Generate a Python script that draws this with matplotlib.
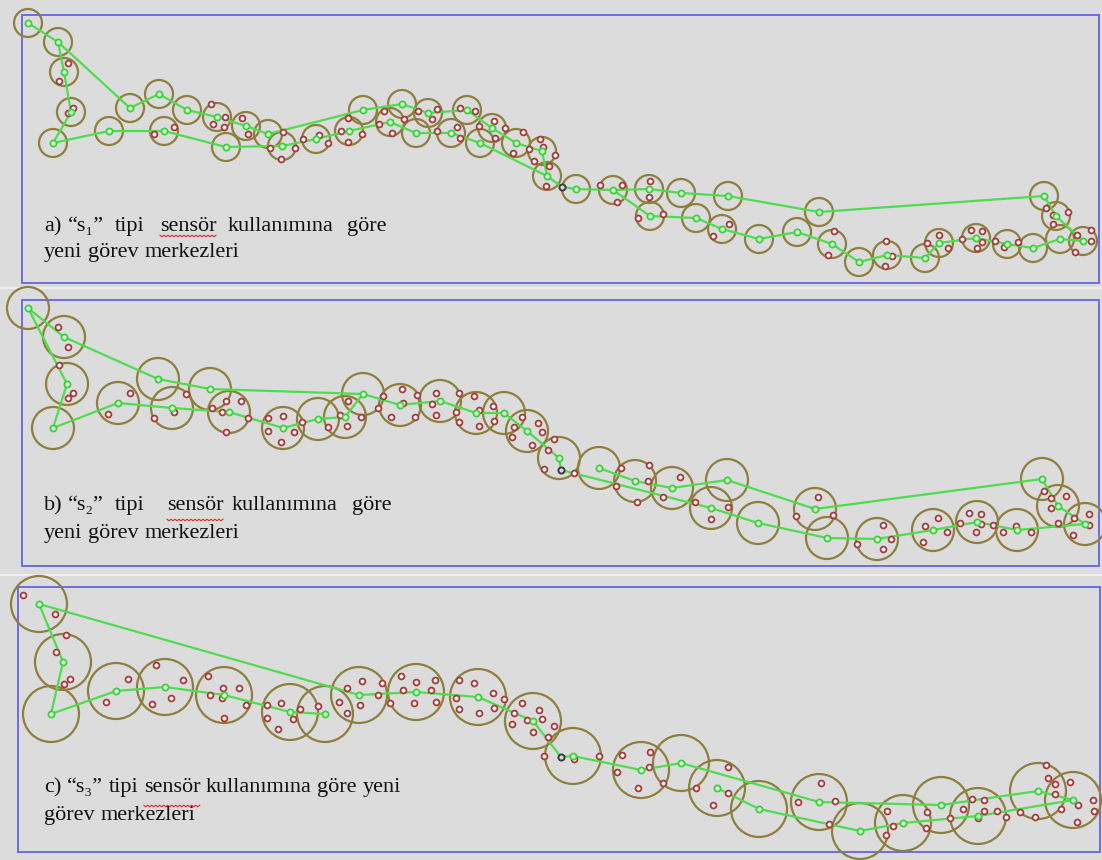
import numpy as np
import matplotlib
matplotlib.use("Agg")
import matplotlib.pyplot as plt
from matplotlib.patches import Circle, Rectangle

# ---------------- data (image pixel coordinates) ----------------
# Panel a
a_depot = (562, 187)
a_route_upper = [(28, 23), (58, 42), (130, 108), (159, 94), (187, 110), (217, 117), (246, 126),
                 (268, 134), (363, 110), (402, 104), (428, 113), (467, 110), (492, 128), (516, 143),
                 (542, 151), (547, 176)]
a_route_lower = [(58, 42), (64, 72), (71, 112), (53, 143), (109, 131), (164, 131), (226, 147),
                 (282, 146), (316, 139), (349, 131), (390, 122), (416, 133), (451, 133), (480, 143),
                 (547, 176), (562, 187), (576, 189), (613, 190), (649, 189), (681, 193), (728, 196),
                 (819, 212), (1044, 196), (1056, 216), (1083, 241)]
a_route_right = [(613, 190), (650, 216), (696, 218), (722, 229), (759, 239), (797, 232), (832, 244),
                 (859, 262), (887, 255), (925, 258), (939, 243), (976, 238), (1007, 244), (1033, 248),
                 (1060, 239), (1083, 241)]
a_tasks = [(68, 63), (59, 81), (73, 108), (68, 113), (154, 134), (174, 127), (211, 104), (213, 124),
           (225, 117), (224, 127), (242, 118), (248, 134), (283, 132), (270, 148), (281, 159), (295, 148),
           (303, 139), (319, 135), (328, 143), (341, 131), (348, 118), (348, 142), (362, 134),
           (384, 111), (379, 124), (392, 133), (404, 119), (418, 111), (437, 109), (432, 119), (437, 131),
           (457, 127), (460, 138), (460, 108), (475, 111), (479, 126), (494, 121), (495, 138), (505, 128),
           (523, 132), (513, 153), (529, 149), (540, 139), (543, 147), (534, 161), (555, 155), (549, 166),
           (546, 186), (600, 185), (622, 185), (617, 202), (650, 181), (649, 197), (638, 218), (663, 214),
           (713, 236), (729, 224), (834, 231), (828, 255), (886, 241), (892, 256), (885, 266), (927, 243),
           (939, 235), (948, 248), (962, 239), (971, 230), (982, 231), (982, 242), (977, 248), (995, 241),
           (1004, 247), (1018, 242), (1046, 208), (1053, 215), (1068, 212), (1053, 224), (1077, 235),
           (1091, 230), (1091, 241), (1075, 252)]

# Panel b
b_depot = (561, 470)
b_route_upper = [(28, 308), (64, 337), (158, 379), (210, 389), (363, 394), (400, 405), (440, 401),
                 (476, 413), (504, 413), (527, 431), (559, 458), (561, 470)]
b_route_lower = [(28, 308), (67, 384), (53, 428), (118, 403), (172, 408), (229, 412), (283, 428),
                 (318, 419), (345, 417), (363, 394)]
b_route_right = [(561, 470), (711, 508), (758, 523), (827, 538), (877, 539), (933, 530), (977, 522),
                 (1017, 530), (1085, 524), (1058, 506), (1042, 479), (815, 509), (727, 480), (672, 488),
                 (635, 481), (599, 468)]
b_tasks = [(58, 327), (68, 347), (59, 365), (73, 393), (68, 398), (130, 393), (108, 414), (154, 418),
           (174, 412), (186, 394), (212, 408), (226, 401), (241, 401), (222, 412), (248, 418), (226, 432),
           (268, 418), (283, 416), (268, 431), (294, 432), (281, 442), (302, 422), (328, 427), (340, 415),
           (348, 401), (347, 426), (361, 417), (383, 396), (378, 408), (391, 417), (402, 389), (403, 403),
           (417, 395), (415, 417), (436, 393), (432, 404), (436, 415), (459, 393), (456, 412), (459, 422),
           (474, 396), (479, 410), (479, 426), (493, 406), (494, 421), (522, 417), (514, 427), (512, 437),
           (538, 423), (542, 432), (532, 445), (554, 439), (548, 450), (544, 469), (574, 473), (621, 468),
           (616, 486), (649, 465), (648, 481), (637, 502), (663, 497), (680, 477), (695, 502), (711, 519),
           (728, 507), (818, 497), (796, 516), (833, 515), (883, 525), (891, 539), (883, 549), (857, 544),
           (925, 526), (938, 518), (947, 532), (923, 542), (960, 523), (969, 513), (981, 514), (981, 524),
           (976, 532), (993, 525), (1003, 532), (1016, 526), (1031, 532), (1044, 491), (1051, 498),
           (1066, 496), (1051, 508), (1058, 523), (1074, 518), (1089, 514), (1089, 525), (1073, 535)]

# Panel c
c_depot = (561, 757)
c_route_left = [(359, 695), (39, 604), (63, 662), (51, 714), (116, 691), (165, 687), (224, 695),
                (290, 712), (325, 714)]
c_route_mid = [(359, 695), (416, 692), (478, 697), (533, 721), (561, 757), (573, 756), (641, 770),
               (681, 763), (819, 802), (941, 805), (1038, 791), (1073, 800)]
c_route_low = [(717, 788), (759, 809), (860, 831), (903, 823), (978, 816), (1073, 800)]
c_tasks = [(23, 595), (55, 614), (66, 635), (56, 652), (70, 679), (64, 684), (128, 679), (106, 702),
           (156, 665), (183, 680), (171, 698), (152, 704), (208, 676), (223, 688), (239, 688), (210, 695),
           (222, 698), (246, 705), (224, 718), (267, 705), (281, 703), (267, 718), (278, 729), (293, 719),
           (300, 709), (318, 706), (339, 702), (347, 713), (347, 688), (362, 681), (382, 683), (378, 695),
           (360, 705), (390, 703), (401, 676), (416, 682), (435, 680), (403, 690), (431, 690), (414, 703),
           (436, 702), (459, 680), (474, 683), (493, 693), (504, 699), (456, 698), (459, 709), (479, 713),
           (494, 708), (522, 703), (539, 710), (514, 713), (527, 720), (542, 719), (512, 724), (533, 732),
           (554, 726), (548, 737), (544, 756), (574, 759), (599, 756), (622, 755), (650, 752), (617, 772),
           (649, 767), (638, 788), (663, 783), (696, 788), (713, 805), (728, 767), (728, 793), (821, 783),
           (798, 802), (835, 801), (829, 824), (887, 811), (893, 826), (886, 835), (927, 812), (926, 828),
           (950, 818), (963, 809), (972, 799), (984, 800), (984, 811), (978, 818), (997, 811), (1006, 817),
           (1020, 812), (1035, 817), (1046, 765), (1048, 778), (1055, 784), (1070, 782), (1055, 794),
           (1061, 809), (1078, 805), (1093, 800), (1094, 811), (1077, 822)]

# sensor radii per panel (pixels)
sensor_radius = [14, 21, 28]

# panel frames (x0, y0, x1, y1)
frames = [(22, 15, 1099, 283), (22, 300, 1099, 566), (18, 587, 1100, 852)]

# caption words: (text, x) per line (x=None -> follows previous word), with baseline y
cap_a1 = [("a)", 44), ("\u201cs\u2081\u201d", 68), ("tipi", 115), ("sens\u00f6r", 160),
          ("kullan\u0131m\u0131na", 228), ("g\u00f6re", 347)]
cap_a2 = [("yeni", 44), ("g\u00f6rev", None), ("merkezleri", None)]
cap_b1 = [("b)", 44), ("\u201cs\u2082\u201d", 68), ("tipi", 115), ("sens\u00f6r", 167),
          ("kullan\u0131m\u0131na", 232), ("g\u00f6re", 352)]
cap_b2 = [("yeni", 44), ("g\u00f6rev", None), ("merkezleri", None)]
cap_c1 = [("c)", 44), ("\u201cs\u2083\u201d", None), ("tipi", None), ("sens\u00f6r", None),
          ("kullan\u0131m\u0131na", None), ("g\u00f6re", None), ("yeni", None)]
cap_c2 = [("g\u00f6rev", 44), ("merkezleri", None)]
cap_baselines = [(231, 257), (510, 538), (792, 820)]
squiggle_y = [236, 520, 806]

# ---------------- styling ----------------
BG = "#dcdcdc"
GREEN_LINE = "#4fdc4f"
GREEN_EDGE = "#3ccf3c"
GREEN_FACE = "#d6ffd6"
RED_EDGE = "#a83a3a"
RED_FACE = "#f6f6f6"
OLIVE = "#8d7f3e"
BLUE = "#6464e0"

fig = plt.figure(figsize=(11.02, 8.6), dpi=100, facecolor=BG)
ax = fig.add_axes([0, 0, 1, 1])
ax.set_facecolor(BG)
ax.set_xlim(0, 1102)
ax.set_ylim(860, 0)
ax.set_aspect("equal")
ax.axis("off")

# thin light separators between panels
for ysep in (288, 575):
    ax.plot([0, 1102], [ysep, ysep], color="#f2f2f2", lw=1.2, zorder=1)

panels = [
    ([a_route_upper, a_route_lower, a_route_right], a_depot, a_tasks),
    ([b_route_upper, b_route_lower, b_route_right], b_depot, b_tasks),
    ([c_route_left, c_route_mid, c_route_low], c_depot, c_tasks),
]

for i, (routes, depot, tasks) in enumerate(panels):
    x0, y0, x1, y1 = frames[i]
    ax.add_patch(Rectangle((x0, y0), x1 - x0, y1 - y0, fill=False, ec=BLUE, lw=1.3, zorder=2))
    nodes = []
    for r in routes:
        for p in r:
            if p not in nodes and p != depot:
                nodes.append(p)
    for (nx, ny) in nodes:
        ax.add_patch(Circle((nx, ny), sensor_radius[i], fill=False, ec=OLIVE, lw=1.6, zorder=3))
    for r in routes:
        ax.plot([p[0] for p in r], [p[1] for p in r], color=GREEN_LINE, lw=1.6, zorder=4,
                solid_capstyle="round")
    ax.plot([p[0] for p in tasks], [p[1] for p in tasks], ls="none", marker="o", ms=4.2, mew=1.3,
            mec=RED_EDGE, mfc=RED_FACE, zorder=5)
    ax.plot([p[0] for p in nodes], [p[1] for p in nodes], ls="none", marker="o", ms=4.4, mew=1.3,
            mec=GREEN_EDGE, mfc=GREEN_FACE, zorder=6)
    ax.plot([depot[0]], [depot[1]], ls="none", marker="o", ms=4.4, mew=1.4, mec="#3a3a3a",
            mfc="#dcdcdc", zorder=6)

# captions
fam = ["Liberation Serif", "DejaVu Serif"]
FS = 16
space_px = FS * 0.25 * 100 / 72
renderer = fig.canvas.get_renderer()
inv = ax.transData.inverted()


def put_line(words, yb):
    xcur = None
    spans = {}
    for (t, x) in words:
        xx = x if x is not None else xcur + space_px
        txt = ax.text(xx, yb, t, family=fam, fontsize=FS, va="baseline", ha="left",
                      color="#111111", zorder=7)
        bb = txt.get_window_extent(renderer)
        xend = inv.transform((bb.x1, bb.y0))[0]
        spans[t] = (xx, xend)
        xcur = xend
    return spans


captions = [(cap_a1, cap_a2), (cap_b1, cap_b2), (cap_c1, cap_c2)]
for i, (l1, l2) in enumerate(captions):
    yb1, yb2 = cap_baselines[i]
    spans = put_line(l1, yb1)
    put_line(l2, yb2)
    # red spell-check squiggle under "sensör"
    sx0, sx1 = spans["sens\u00f6r"]
    zx = np.arange(sx0, sx1 + 0.1, 2.0)
    zy = squiggle_y[i] + np.where(np.arange(len(zx)) % 2 == 0, -0.8, 0.8)
    ax.plot(zx, zy, color="#d03030", lw=0.8, zorder=7)

fig.savefig("out.png", dpi=100, facecolor=BG)
